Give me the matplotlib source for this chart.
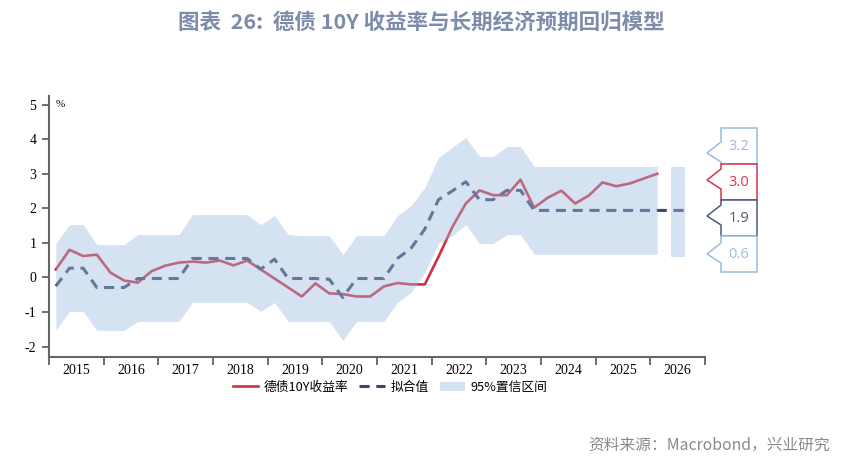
import numpy as np
import matplotlib
matplotlib.use("Agg")
import matplotlib.pyplot as plt
from matplotlib.patches import Polygon

plt.rcParams['font.family'] = ['Noto Sans CJK SC', 'DejaVu Sans']
plt.rcParams['axes.unicode_minus'] = False

# quarterly data, 2015Q1 - 2026Q1
yield_10y = [0.23, 0.80, 0.62, 0.66, 0.14, -0.09, -0.15, 0.18, 0.34, 0.43,
             0.46, 0.43, 0.49, 0.35, 0.49, 0.23, -0.03, -0.29, -0.55, -0.17,
             -0.46, -0.48, -0.55, -0.55, -0.26, -0.16, -0.20, -0.20, 0.60, 1.45,
             2.14, 2.52, 2.38, 2.38, 2.83, 2.02, 2.31, 2.51, 2.14, 2.37,
             2.75, 2.64, 2.72, 2.86, 3.00]
# fitted value, runs two quarters further (2026Q3)
fitted = [-0.25, 0.27, 0.27, -0.29, -0.29, -0.29, -0.03, -0.03, -0.03, -0.03,
          0.55, 0.55, 0.55, 0.55, 0.55, 0.24, 0.53, -0.03, -0.03, -0.03,
          -0.05, -0.58, -0.03, -0.03, -0.03, 0.55, 0.85, 1.40, 2.25, 2.50,
          2.77, 2.25, 2.25, 2.52, 2.52, 1.94, 1.94, 1.94, 1.94, 1.94,
          1.94, 1.94, 1.94, 1.94, 1.94, 1.94, 1.94]
band_hi = [0.98, 1.53, 1.53, 0.95, 0.95, 0.95, 1.24, 1.24, 1.24, 1.24,
           1.82, 1.82, 1.82, 1.82, 1.82, 1.53, 1.79, 1.24, 1.21, 1.21,
           1.21, 0.66, 1.21, 1.21, 1.21, 1.79, 2.08, 2.60, 3.47, 3.76,
           4.05, 3.50, 3.50, 3.79, 3.79, 3.21, 3.21, 3.21, 3.21, 3.21,
           3.21, 3.21, 3.21, 3.21, 3.21]
band_lo = [-1.52, -0.98, -0.98, -1.53, -1.53, -1.53, -1.27, -1.27, -1.27, -1.27,
           -0.72, -0.72, -0.72, -0.72, -0.72, -0.98, -0.72, -1.27, -1.27, -1.27,
           -1.27, -1.82, -1.27, -1.27, -1.27, -0.72, -0.43, 0.14, 0.98, 1.21,
           1.53, 0.98, 0.98, 1.24, 1.24, 0.67, 0.67, 0.67, 0.67, 0.67,
           0.67, 0.67, 0.67, 0.67, 0.67]
# latest interval bar (2026Q2 - 2026Q3)
last_lo, last_hi = 0.6, 3.2
years = list(range(2015, 2027))

tag_text = ['3.2', '3.0', '1.9', '0.6']
tag_color = ['#9dbbe0', '#d4354c', '#4a5a7c', '#9dbbe0']

red = '#d2303f'
navy = '#3c4869'
band_c = '#9dbae2'
band_a = 0.42

x_y = 2015 + (np.arange(len(yield_10y)) + 0.5) / 4
x_f = 2015 + (np.arange(len(fitted)) + 0.5) / 4
x_b = 2015 + (np.arange(len(band_hi)) + 0.5) / 4
x_last = x_f[-2:]

fig = plt.figure(figsize=(8.43, 4.68), dpi=100)
ax = fig.add_axes([0.0581, 0.2372, 0.7782, 0.5577])

ax.plot(x_y, yield_10y, color=red, lw=1.9, zorder=2, label='德债10Y收益率')
ax.plot(x_f, fitted, color=navy, lw=2.2, dashes=(3.3, 2.2), zorder=2, label='拟合值')
ax.fill_between(x_b, band_lo, band_hi, color=band_c, alpha=band_a, lw=0,
                zorder=3, label='95%置信区间')
ax.fill_between(x_last, [last_lo] * 2, [last_hi] * 2, color=band_c, alpha=band_a,
                lw=0, zorder=3)

ax.set_xlim(2015, 2027)
ax.set_ylim(-2.3, 5.25)
ax.set_xticks(range(2015, 2028))
ax.set_xticks([y + 0.5 for y in years], minor=True)
ax.set_xticklabels([])
ax.set_xticklabels([str(y) for y in years], minor=True, family='Liberation Serif',
                   fontsize=10)
ax.tick_params(axis='x', which='major', length=6, width=1.2, color='#555555')
ax.tick_params(axis='x', which='minor', length=0, pad=5)
ax.set_yticks(range(-2, 6))
ax.set_yticklabels([str(v) for v in range(-2, 6)], family='Liberation Serif',
                   fontsize=10)
ax.tick_params(axis='y', length=5, width=1.2, color='#555555', pad=4)
for s in ['top', 'right']:
    ax.spines[s].set_visible(False)
for s in ['left', 'bottom']:
    ax.spines[s].set_color('#666666')
    ax.spines[s].set_linewidth(1.5)
ax.text(0.01, 0.985, '%', transform=ax.transAxes, family='Liberation Serif',
        fontsize=8, va='top', ha='left')

# value tags on the right (pixel layout)
W, H = 843, 468
box_l, box_r, tip_x = 721, 757, 707
tops = [128, 164, 200, 236]
tips = [153, 180, 216, 254]
for t, tip, txt, c in zip(tops, tips, tag_text, tag_color):
    b = t + 36
    pts = [(box_l, t), (box_r, t), (box_r, b), (box_l, b), (box_l, tip + 9),
           (tip_x, tip), (box_l, tip - 11)]
    pts = [(px / W, 1 - py / H) for px, py in pts]
    fig.patches.append(Polygon(pts, closed=True, facecolor='white', edgecolor=c,
                               lw=1.1, transform=fig.transFigure, figure=fig))
    fig.text((box_l + box_r) / 2 / W, 1 - (t + 18) / H, txt, color=c,
             fontsize=10.5, family='Open Sans', ha='center', va='center')

fig.legend(loc='center', bbox_to_anchor=(390 / W, 1 - 387 / H), ncol=3,
           frameon=False, fontsize=9.2, handlelength=2.0, handletextpad=0.4,
           columnspacing=0.9, borderpad=0)

fig.text(0.5, 1 - 22 / H, '图表  26:  德债 10Y 收益率与长期经济预期回归模型',
         ha='center', va='center', fontsize=15.5, fontweight='bold',
         color='#7d8cab')
fig.text(830 / W, 1 - 445 / H, '资料来源：Macrobond，兴业研究', ha='right',
         va='center', fontsize=11.3, color='#8a8a8a')

fig.savefig('out.png', dpi=100)
